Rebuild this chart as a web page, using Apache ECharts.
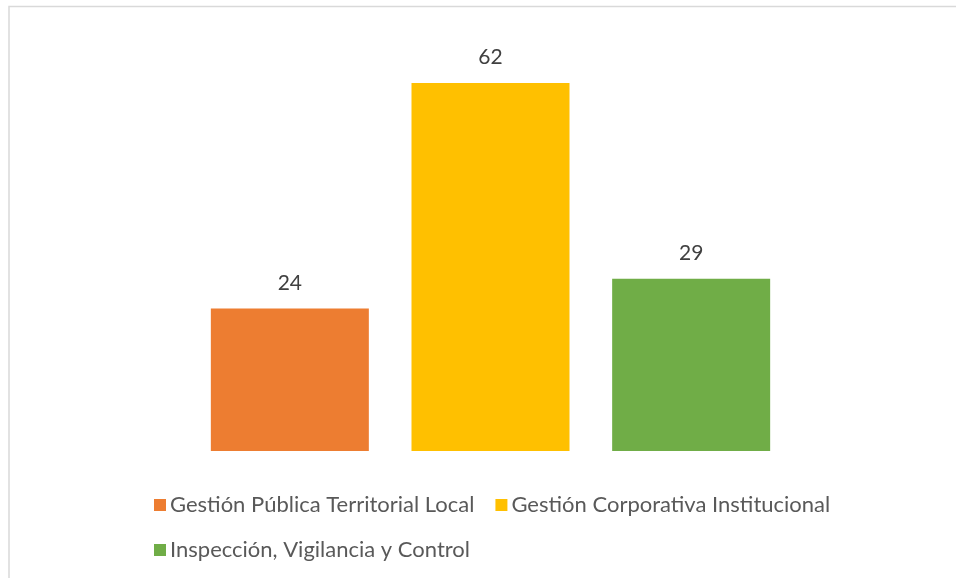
<!DOCTYPE html>
<html><head><meta charset="utf-8">
<script src="https://cdn.jsdelivr.net/npm/echarts@6/dist/echarts.min.js"></script>
<style>html,body{margin:0;padding:0;background:#fff}#c{width:956px;height:578px}</style>
</head><body><div id="c"></div>
<script>
const categories = [''];
const seriesNames = ['Gestión Pública Territorial Local', 'Gestión Corporativa Institucional', 'Inspección, Vigilancia y Control'];
const seriesValues = [[24], [62], [29]];
const colors = ['#ED7D31', '#FFC000', '#70AD47'];
const FONT = 'Lato';

const chart = echarts.init(document.getElementById('c'));
chart.setOption({
  animation: false,
  textStyle: {fontFamily: FONT},
  graphic: [{type: 'rect', shape: {x: 9, y: 6.5, width: 1000, height: 1000}, style: {fill: 'none', stroke: '#d9d9d9', lineWidth: 1.5}, silent: true}],
  grid: {left: 101, right: 76, top: 35.5, bottom: 127},
  xAxis: {type: 'category', data: categories, axisLine: {show: false}, axisTick: {show: false}, axisLabel: {show: false}},
  yAxis: {type: 'value', min: 0, max: 70, show: false, splitLine: {show: false}},
  legend: [
    {data: seriesNames.slice(0, 2), left: 149, top: 489, itemWidth: 12, itemHeight: 12, itemGap: 21, icon: 'rect',
     textStyle: {fontSize: 22, color: '#595959', fontFamily: FONT, padding: [0, 0, 0, -1]}},
    {data: seriesNames.slice(2), left: 149, top: 534, itemWidth: 12, itemHeight: 12, itemGap: 21, icon: 'rect',
     textStyle: {fontSize: 22, color: '#595959', fontFamily: FONT, padding: [0, 0, 0, -1]}}
  ],
  series: seriesNames.map((n, i) => ({
    name: n, type: 'bar', data: seriesValues[i], barWidth: 158, barGap: '27%',
    itemStyle: {color: colors[i]},
    label: {show: true, position: 'top', distance: 15, fontSize: 21, color: '#404040', fontFamily: FONT}
  }))
});
</script></body></html>
